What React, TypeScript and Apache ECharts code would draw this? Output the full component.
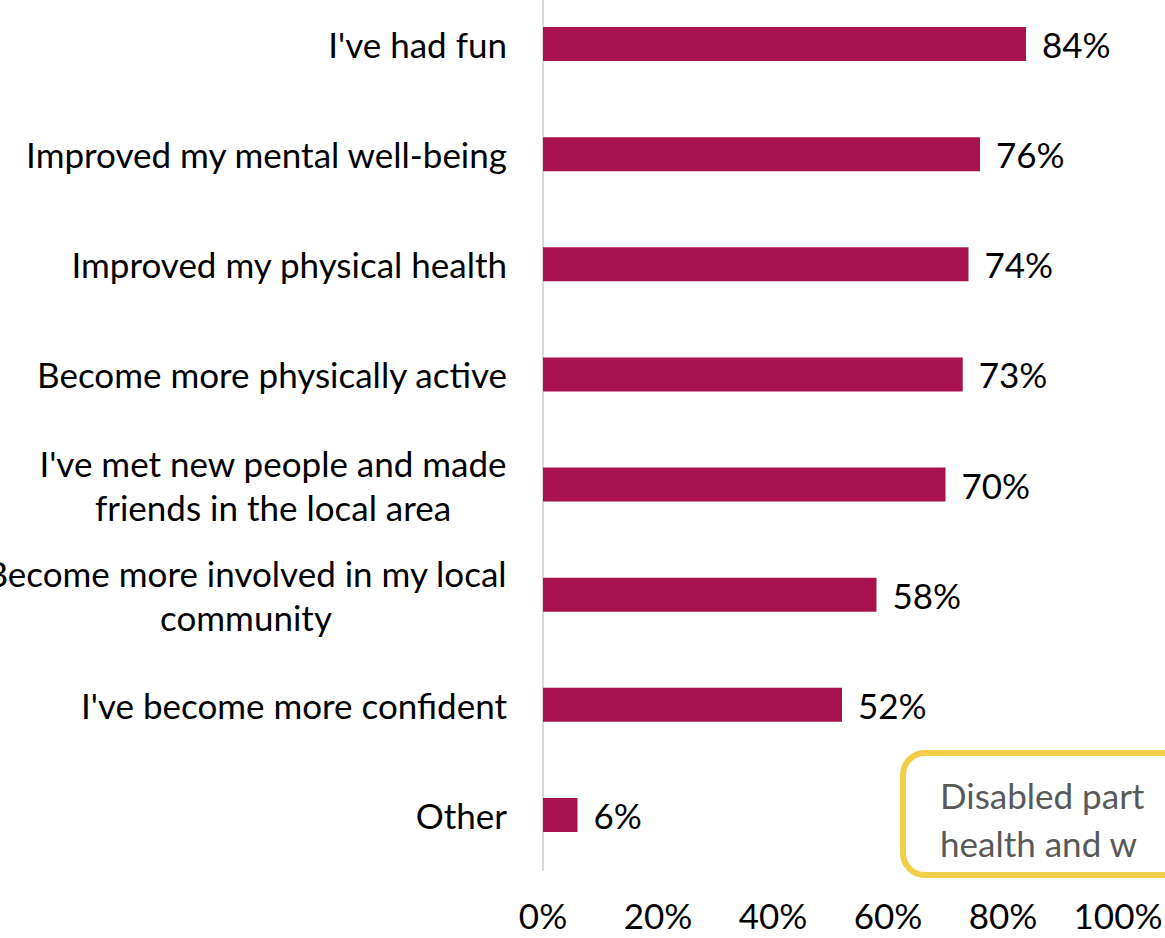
import React, { useEffect, useRef } from "react";
import * as echarts from "echarts";

const categories = [
  "I've had fun",
  "Improved my mental well-being",
  "Improved my physical health",
  "Become more physically active",
  "I've met new people and made\nfriends in the local area",
  "Become more involved in my local\ncommunity",
  "I've become more confident",
  "Other",
];
const values = [84, 76, 74, 73, 70, 58, 52, 6];
const xTicks = [0, 20, 40, 60, 80, 100];
const boxLines = ["Disabled part", "health and w"];

const FONT = "Lato, 'Noto Sans', sans-serif";
const FS = 35;

function measure(text: string): number {
  const c = document.createElement("canvas").getContext("2d");
  if (!c) return text.length * FS * 0.5;
  c.font = `${FS}px ${FONT}`;
  return c.measureText(text).width;
}

export default function App() {
  const ref = useRef<HTMLDivElement>(null);
  useEffect(() => {
    if (!ref.current) return;
    const chart = echarts.init(ref.current, undefined, { renderer: "svg" });

    const rich: Record<string, any> = {};
    categories.forEach((cat, i) => {
      const lines = cat.split("\n");
      if (lines.length > 1) {
        const w = Math.ceil(Math.max(...lines.map(measure)));
        rich["r" + i] = {
          width: w,
          align: "center",
          fontFamily: FONT,
          fontSize: FS,
          color: "#000",
          lineHeight: 44,
        };
      }
    });

    chart.setOption({
      animation: false,
      grid: {
        left: 543,
        right: 47,
        top: -11,
        bottom: 68,
        containLabel: false,
        outerBoundsMode: "none",
      },
      xAxis: {
        type: "value",
        min: xTicks[0],
        max: xTicks[xTicks.length - 1],
        interval: 20,
        axisLine: { show: false },
        axisTick: { show: false },
        splitLine: { show: false },
        axisLabel: {
          formatter: (v: number) => v + "%",
          fontFamily: FONT,
          fontSize: FS,
          color: "#000",
          margin: 27,
        },
      },
      yAxis: {
        type: "category",
        inverse: true,
        data: categories,
        axisLine: { show: true, lineStyle: { color: "#d9d9d9", width: 2 } },
        axisTick: { show: false },
        axisLabel: {
          fontFamily: FONT,
          fontSize: FS,
          color: "#000",
          margin: 36,
          align: "right",
          lineHeight: 44,
          rich,
          formatter: (v: string, i: number) => {
            const lines = v.split("\n");
            if (lines.length > 1) {
              return lines.map((l) => `{r${i}|${l}}`).join("\n");
            }
            return v;
          },
        },
      },
      series: [
        {
          type: "bar",
          data: values,
          barWidth: 34,
          itemStyle: { color: "#A8134F" },
          label: {
            show: true,
            position: "right",
            distance: 16,
            formatter: "{c}%",
            fontFamily: FONT,
            fontSize: FS,
            color: "#000",
          },
        },
      ],
      graphic: [
        {
          type: "rect",
          shape: { x: 903, y: 753, width: 420, height: 122, r: 22 },
          style: { fill: "#fff", stroke: "#F2CD47", lineWidth: 6 },
          z: 100,
        },
        {
          type: "text",
          x: 940,
          y: 795,
          style: {
            text: boxLines[0],
            fontFamily: FONT,
            fontSize: FS,
            fill: "#595959",
            verticalAlign: "middle",
          },
          z: 101,
        },
        {
          type: "text",
          x: 940,
          y: 843,
          style: {
            text: boxLines[1],
            fontFamily: FONT,
            fontSize: FS,
            fill: "#595959",
            verticalAlign: "middle",
          },
          z: 101,
        },
      ],
    });
    return () => chart.dispose();
  }, []);
  return (
    <div
      ref={ref}
      style={{ position: "fixed", left: 0, top: 0, width: 1165, height: 938, background: "#fff" }}
    />
  );
}
